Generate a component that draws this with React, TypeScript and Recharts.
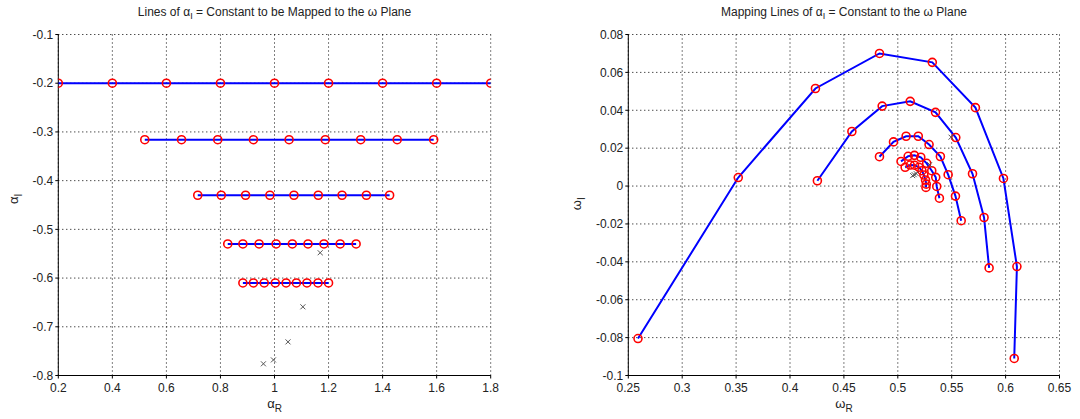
import React from 'react';
import { ScatterChart, Scatter, XAxis, YAxis, CartesianGrid } from 'recharts';

// ---------- Left plot: lines of alpha_I = constant ----------
const leftXTicks = [0.2, 0.4, 0.6, 0.8, 1.0, 1.2, 1.4, 1.6, 1.8];
const leftYTicks = [-0.8, -0.7, -0.6, -0.5, -0.4, -0.3, -0.2, -0.1];

const alphaLine1: [number, number][] = [
  [0.2, -0.2], [0.4, -0.2], [0.6, -0.2], [0.8, -0.2], [1.0, -0.2],
  [1.2, -0.2], [1.4, -0.2], [1.6, -0.2], [1.8, -0.2],
];
const alphaLine2: [number, number][] = [
  [0.52, -0.316], [0.656, -0.316], [0.79, -0.316], [0.922, -0.316], [1.054, -0.316],
  [1.188, -0.316], [1.319, -0.316], [1.454, -0.316], [1.589, -0.316],
];
const alphaLine3: [number, number][] = [
  [0.716, -0.43], [0.803, -0.43], [0.893, -0.43], [0.983, -0.43], [1.072, -0.43],
  [1.162, -0.43], [1.25, -0.43], [1.34, -0.43], [1.426, -0.43],
];
const alphaLine4: [number, number][] = [
  [0.827, -0.53], [0.883, -0.53], [0.943, -0.53], [1.006, -0.53], [1.066, -0.53],
  [1.124, -0.53], [1.183, -0.53], [1.243, -0.53], [1.302, -0.53],
];
const alphaLine5: [number, number][] = [
  [0.883, -0.61], [0.922, -0.61], [0.962, -0.61], [1.003, -0.61], [1.043, -0.61],
  [1.081, -0.61], [1.12, -0.61], [1.161, -0.61], [1.2, -0.61],
];
const alphaCrosses: [number, number][] = [
  [1.169, -0.548], [1.105, -0.659], [1.05, -0.731], [0.996, -0.768], [0.959, -0.776],
];

// ---------- Right plot: mapped lines in the omega plane ----------
const rightXTicks = [0.25, 0.3, 0.35, 0.4, 0.45, 0.5, 0.55, 0.6, 0.65];
const rightYTicks = [-0.1, -0.08, -0.06, -0.04, -0.02, 0, 0.02, 0.04, 0.06, 0.08];

const omegaCurve1: [number, number][] = [
  [0.259, -0.0805], [0.352, 0.0045], [0.4236, 0.0515], [0.483, 0.07], [0.532, 0.0653],
  [0.572, 0.0414], [0.598, 0.004], [0.6105, -0.0425], [0.608, -0.091],
];
const omegaCurve2: [number, number][] = [
  [0.4254, 0.0028], [0.4574, 0.0288], [0.4855, 0.0422], [0.5115, 0.0447], [0.535, 0.0389],
  [0.5538, 0.0256], [0.5693, 0.0065], [0.58, -0.0166], [0.5847, -0.0432],
];
const omegaCurve3: [number, number][] = [
  [0.483, 0.0155], [0.496, 0.0233], [0.5077, 0.0263], [0.519, 0.0263], [0.529, 0.0219],
  [0.5395, 0.0156], [0.5467, 0.006], [0.5535, -0.0053], [0.5588, -0.0183],
];
const omegaCurve4: [number, number][] = [
  [0.503, 0.013], [0.5096, 0.0157], [0.5154, 0.0162], [0.5213, 0.0152], [0.5268, 0.012],
  [0.5315, 0.0081], [0.5352, 0.0046], [0.5361, -0.0002], [0.5386, -0.0064],
];
const omegaCurve5: [number, number][] = [
  [0.5068, 0.0099], [0.5115, 0.0111], [0.5155, 0.011], [0.5196, 0.0099], [0.5224, 0.0081],
  [0.5242, 0.0058], [0.5257, 0.0032], [0.5264, 0.001], [0.5261, -0.0007],
];
const omegaCrosses: [number, number][] = [
  [0.5494, 0.0258], [0.5295, 0.0113], [0.5172, 0.0065], [0.5152, 0.006], [0.5138, 0.0055],
];

const toPts = (arr: [number, number][]) => arr.map(([x, y]) => ({ x, y }));

const FONT = '"Liberation Sans", Arial, Helvetica, sans-serif';
const TXT = '#222';

const RedCircle = (props: any) => {
  const { cx, cy } = props;
  if (cx == null || cy == null) return null;
  return <circle cx={cx} cy={cy} r={4} stroke="#ff0000" strokeWidth={1.6} fill="none" />;
};

const GrayCross = (props: any) => {
  const { cx, cy } = props;
  if (cx == null || cy == null) return null;
  const s = 2.5;
  return (
    <g stroke="#555" strokeWidth={1}>
      <line x1={cx - s} y1={cy - s} x2={cx + s} y2={cy + s} />
      <line x1={cx - s} y1={cy + s} x2={cx + s} y2={cy - s} />
    </g>
  );
};

const fmt = (v: number) => String(Number(v.toFixed(3)));

const lineStyle = { stroke: '#0000ff', strokeWidth: 2 };

const tickStyle = { fontSize: 12, fill: TXT, fontFamily: FONT };

export default function App() {
  const leftCurves = [alphaLine1, alphaLine2, alphaLine3, alphaLine4, alphaLine5];
  const rightCurves = [omegaCurve1, omegaCurve2, omegaCurve3, omegaCurve4, omegaCurve5];
  const W = 540;
  const H = 419;
  return (
    <div style={{ position: 'absolute', left: 0, top: 0, width: 1080, height: 419, background: '#fff', fontFamily: FONT, color: TXT }}>
      {/* Left chart */}
      <div style={{ position: 'absolute', left: 0, top: 0 }}>
        <ScatterChart width={W} height={H} margin={{ top: 34.5, right: 49.3, bottom: 0, left: 0 }}>
          <CartesianGrid stroke="#000" strokeDasharray="1 3" strokeWidth={1} />
          <XAxis
            type="number"
            dataKey="x"
            domain={[0.2, 1.8]}
            ticks={leftXTicks}
            tickFormatter={fmt}
            height={43.5}
            stroke="#000"
            tickSize={3}
            tickMargin={5}
            tick={tickStyle}
            allowDataOverflow
          />
          <YAxis
            type="number"
            dataKey="y"
            domain={[-0.8, -0.1]}
            ticks={leftYTicks}
            tickFormatter={fmt}
            width={58.3}
            stroke="#000"
            tickSize={3}
            tickMargin={2}
            tick={tickStyle}
            allowDataOverflow
          />
          {leftCurves.map((c, i) => (
            <Scatter
              key={'l' + i}
              data={toPts(c)}
              line={lineStyle}
              lineType="joint"
              shape={RedCircle}
              isAnimationActive={false}
            />
          ))}
          <Scatter data={toPts(alphaCrosses)} shape={GrayCross} isAnimationActive={false} />
        </ScatterChart>
      </div>

      {/* Right chart */}
      <div style={{ position: 'absolute', left: 540, top: 0 }}>
        <ScatterChart width={W} height={H} margin={{ top: 34.5, right: 20.5, bottom: 0, left: 0 }}>
          <CartesianGrid stroke="#000" strokeDasharray="1 3" strokeWidth={1} />
          <XAxis
            type="number"
            dataKey="x"
            domain={[0.25, 0.65]}
            ticks={rightXTicks}
            tickFormatter={fmt}
            height={43.5}
            stroke="#000"
            tickSize={3}
            tickMargin={5}
            tick={tickStyle}
            allowDataOverflow
          />
          <YAxis
            type="number"
            dataKey="y"
            domain={[-0.1, 0.08]}
            ticks={rightYTicks}
            tickFormatter={fmt}
            width={88.3}
            stroke="#000"
            tickSize={3}
            tickMargin={2}
            tick={tickStyle}
            allowDataOverflow
          />
          {rightCurves.map((c, i) => (
            <Scatter
              key={'r' + i}
              data={toPts(c)}
              line={lineStyle}
              lineType="joint"
              shape={RedCircle}
              isAnimationActive={false}
            />
          ))}
          <Scatter data={toPts(omegaCrosses)} shape={GrayCross} isAnimationActive={false} />
        </ScatterChart>
      </div>

      {/* Titles */}
      <div style={{ position: 'absolute', left: 58, width: 433, top: 5, textAlign: 'center', fontSize: 12, whiteSpace: 'nowrap' }}>
        Lines of α<sub style={{ fontSize: 9 }}>I</sub> = Constant to be Mapped to the ω Plane
      </div>
      <div style={{ position: 'absolute', left: 628, width: 432, top: 5, textAlign: 'center', fontSize: 12, whiteSpace: 'nowrap' }}>
        Mapping Lines of α<sub style={{ fontSize: 9 }}>I</sub> = Constant to the ω Plane
      </div>

      {/* X labels */}
      <div style={{ position: 'absolute', left: 58, width: 433, top: 396, textAlign: 'center', fontSize: 13, whiteSpace: 'nowrap' }}>
        α<sub style={{ fontSize: 10 }}>R</sub>
      </div>
      <div style={{ position: 'absolute', left: 628, width: 432, top: 396, textAlign: 'center', fontSize: 13, whiteSpace: 'nowrap' }}>
        ω<sub style={{ fontSize: 10 }}>R</sub>
      </div>

      {/* Y labels */}
      <div style={{ position: 'absolute', left: -5, top: 190, width: 40, textAlign: 'center', fontSize: 13, whiteSpace: 'nowrap', transform: 'rotate(-90deg)' }}>
        α<sub style={{ fontSize: 10 }}>I</sub>
      </div>
      <div style={{ position: 'absolute', left: 558, top: 195, width: 40, textAlign: 'center', fontSize: 13, whiteSpace: 'nowrap', transform: 'rotate(-90deg)' }}>
        ω<sub style={{ fontSize: 10 }}>I</sub>
      </div>
    </div>
  );
}
